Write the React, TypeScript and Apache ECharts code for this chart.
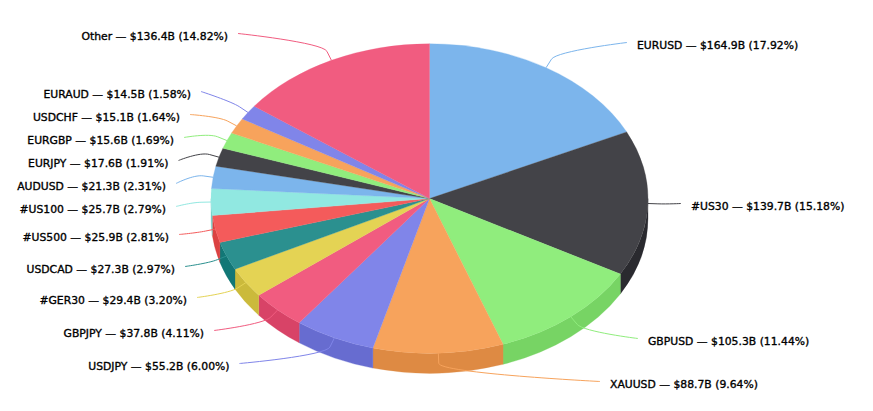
import React, { useEffect, useRef } from "react";
import * as echarts from "echarts";

const CATEGORIES = ["EURUSD", "#US30", "GBPUSD", "XAUUSD", "USDJPY", "GBPJPY", "#GER30", "USDCAD", "#US500", "#US100", "AUDUSD", "EURJPY", "EURGBP", "USDCHF", "EURAUD", "Other"];
const VALUES = [164.9, 139.7, 105.3, 88.7, 55.2, 37.8, 29.4, 27.3, 25.9, 25.7, 21.3, 17.6, 15.6, 15.1, 14.5, 136.4];
const PERCENTS = ["17.92", "15.18", "11.44", "9.64", "6.00", "4.11", "3.20", "2.97", "2.81", "2.79", "2.31", "1.91", "1.69", "1.64", "1.58", "14.82"];
const PALETTE = ["#7cb5ec", "#434348", "#90ed7d", "#f7a35c", "#8085e9", "#f15c80", "#e4d354", "#2b908f", "#f45b5b", "#91e8e1"];
const LABEL_X = [637, 691, 648, 610, 229.5, 204, 187, 175, 169, 166, 166, 168.5, 174, 180, 191, 228];
const LABEL_Y = [45, 206, 341, 384, 366, 333, 300, 269, 237, 209, 186, 163, 140, 117, 94, 36];

const CX = 429.5, CY = 198.6, RX = 218.5, RY = 154.8, DEPTH = 20, KNEE = 10;
const TOTAL = VALUES.reduce((a, b) => a + b, 0);
const FONT = '"DejaVu Sans", sans-serif';

const darken = (hex: string, d = 25.5) => {
  const n = parseInt(hex.slice(1), 16);
  const c = [(n >> 16) & 255, (n >> 8) & 255, n & 255].map((v) => Math.max(0, Math.round(v - d)));
  return `rgb(${c.join(",")})`;
};
const angleAt = (i: number) => (VALUES.slice(0, i).reduce((a, b) => a + b, 0) / TOTAL) * Math.PI * 2;
const pt = (a: number, dy = 0): [number, number] => [CX + RX * Math.sin(a), CY - RY * Math.cos(a) + dy];
const n2 = (v: number) => v.toFixed(2);

function topPath(a0: number, a1: number) {
  const p0 = pt(a0), p1 = pt(a1);
  return `M${CX} ${CY}L${n2(p0[0])} ${n2(p0[1])}A${RX} ${RY} 0 ${a1 - a0 > Math.PI ? 1 : 0} 1 ${n2(p1[0])} ${n2(p1[1])}Z`;
}
function wallPath(a0: number, a1: number) {
  const s = Math.max(a0, Math.PI / 2), e = Math.min(a1, (Math.PI * 3) / 2);
  if (e <= s) return null;
  const p0 = pt(s), p1 = pt(e), q0 = pt(s, DEPTH), q1 = pt(e, DEPTH);
  return `M${n2(p0[0])} ${n2(p0[1])}A${RX} ${RY} 0 0 1 ${n2(p1[0])} ${n2(p1[1])}L${n2(q1[0])} ${n2(q1[1])}A${RX} ${RY} 0 0 0 ${n2(q0[0])} ${n2(q0[1])}Z`;
}

const renderSlice = (params: any, api: any) => {
  const i = params.dataIndex;
  const color = PALETTE[i % PALETTE.length];
  const a0 = angleAt(i), a1 = a0 + (api.value(0) / TOTAL) * Math.PI * 2;
  const children: any[] = [];
  const wall = wallPath(a0, a1);
  if (wall) children.push({ type: "path", shape: { pathData: wall }, style: { fill: darken(color), stroke: darken(color), lineWidth: 0.3 } });
  children.push({ type: "path", shape: { pathData: topPath(a0, a1) }, style: { fill: color, stroke: color, lineWidth: 0.3 } });
  return { type: "group", children };
};

const renderLabel = (params: any, api: any) => {
  const i = params.dataIndex;
  const color = PALETTE[i % PALETTE.length];
  const value = api.value(0);
  const mid = angleAt(i) + (value / TOTAL) * Math.PI;
  const edge = pt(mid);
  const knee: [number, number] = [edge[0] + KNEE * Math.sin(mid), edge[1] - KNEE * Math.cos(mid)];
  const right = Math.sin(mid) > 0;
  const lx = LABEL_X[i], ly = LABEL_Y[i];
  const sx = lx + (right ? -10 : 10), sy = ly - 2.5;
  const d = `M${sx} ${sy}C${sx} ${sy} ${n2(2 * knee[0] - edge[0])} ${n2(2 * knee[1] - edge[1])} ${n2(knee[0])} ${n2(knee[1])}L${n2(edge[0])} ${n2(edge[1])}`;
  return {
    type: "group",
    children: [
      { type: "path", shape: { pathData: d }, style: { fill: "none", stroke: color, lineWidth: 1 } },
      {
        type: "text",
        x: lx,
        y: ly + 0.4,
        style: {
          text: `${CATEGORIES[i]} — $${value.toFixed(1)}B (${PERCENTS[i]}%)`,
          fill: "#000000",
          stroke: "#000000",
          lineWidth: 0.35,
          font: `normal 10.8px ${FONT}`,
          align: right ? "left" : "right",
          verticalAlign: "middle",
        },
      },
    ],
  };
};

export default function App() {
  const ref = useRef<HTMLDivElement>(null);
  useEffect(() => {
    const chart = echarts.init(ref.current!, undefined, { renderer: "svg" });
    const data = VALUES.map((value, i) => ({ name: CATEGORIES[i], value }));
    chart.setOption({
      animation: false,
      backgroundColor: "#ffffff",
      series: [
        { type: "custom", coordinateSystem: "none", renderItem: renderSlice, data, silent: true, z: 2 },
        { type: "custom", coordinateSystem: "none", renderItem: renderLabel, data, silent: true, z: 3 },
      ],
    });
    return () => chart.dispose();
  }, []);
  return <div ref={ref} style={{ position: "fixed", left: 0, top: 0, width: 873, height: 411 }} />;
}
